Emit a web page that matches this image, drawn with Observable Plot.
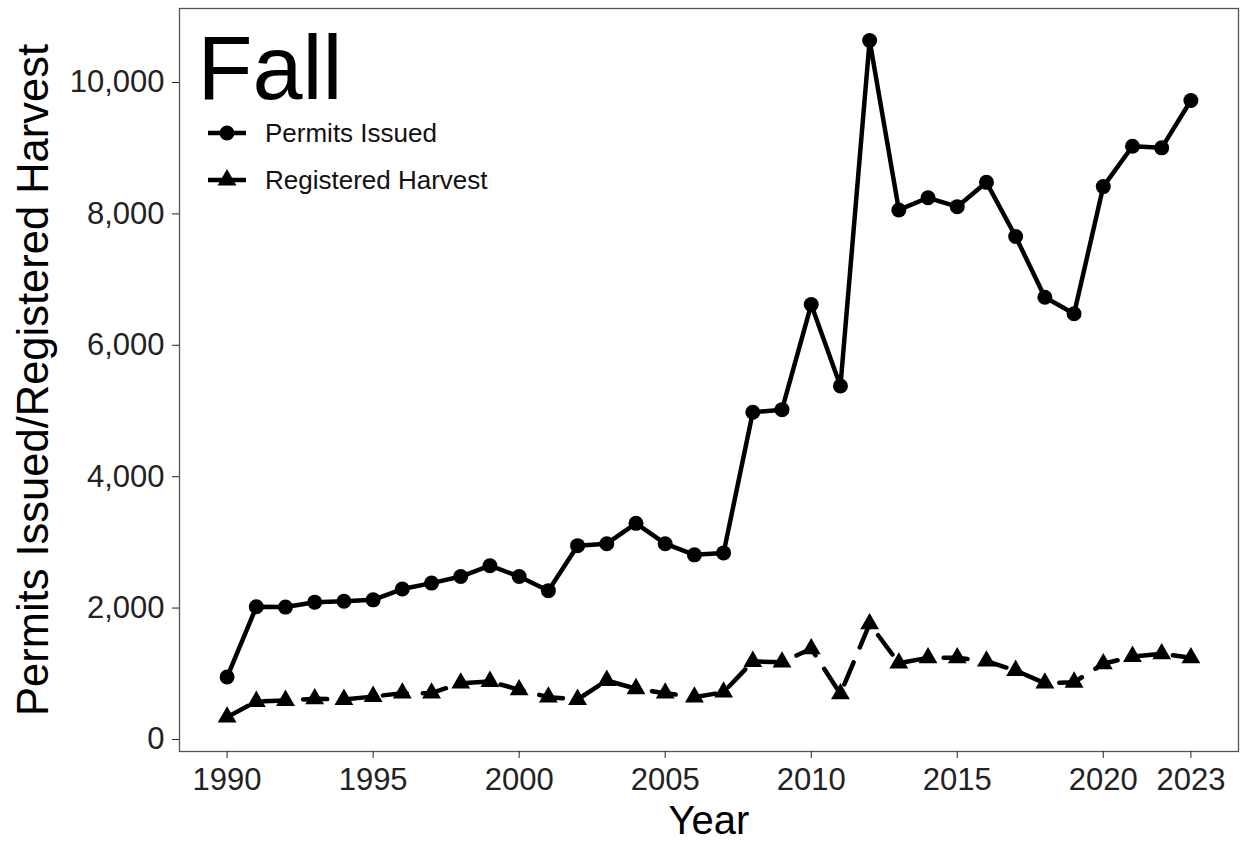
<!DOCTYPE html>
<html><head><meta charset="utf-8">
<script src="https://cdn.jsdelivr.net/npm/d3@7"></script>
<script src="https://cdn.jsdelivr.net/npm/@observablehq/plot@0.6"></script>
<style>body{margin:0;background:#fff;}</style>
</head><body><div id="chart"></div>
<script>
const years = [1990,1991,1992,1993,1994,1995,1996,1997,1998,1999,2000,2001,2002,2003,2004,2005,2006,2007,2008,2009,2010,2011,2012,2013,2014,2015,2016,2017,2018,2019,2020,2021,2022,2023];
const permits = [950,2020,2015,2090,2105,2125,2290,2380,2480,2645,2480,2265,2950,2980,3290,2980,2810,2840,4980,5020,6620,5380,10640,8060,8245,8110,8480,7655,6730,6480,8415,9030,9005,9725];
const harvest = [340,578,594,619,609,654,705,705,857,883,756,644,609,898,772,705,644,720,1187,1177,1380,695,1761,1162,1243,1243,1192,1050,857,872,1152,1263,1304,1243];
const yTicks = [0,2000,4000,6000,8000,10000];
const xTicks = [1990,1995,2000,2005,2010,2015,2020,2023];
const seriesNames = ["Permits Issued","Registered Harvest"];
const panelTitle = "Fall";
const xLabel = "Year";
const yLabel = "Permits Issued/Registered Harvest";

const pData = years.map((y,i)=>({year:y, value:permits[i]}));
const hData = years.map((y,i)=>({year:y, value:harvest[i]}));
const FONT = "Liberation Sans, Arial, sans-serif";

function legendMark(index, scales, values, dims, context) {
  const g = d3.create("svg:g").attr("font-family", FONT).attr("text-anchor","start");
  const items = [
    {name: seriesNames[0], symbol: d3.symbolCircle, size: Math.PI*7.5*7.5},
    {name: seriesNames[1], symbol: d3.symbolTriangle, size: Math.PI*7*7}
  ];
  items.forEach((it,i)=>{
    const cy = 133 + i*47;
    g.append("line").attr("x1",208).attr("x2",246).attr("y1",cy).attr("y2",cy)
      .attr("stroke","black").attr("stroke-width",4.5);
    g.append("path").attr("transform",`translate(227,${cy})`).attr("d",d3.symbol(it.symbol, it.size)()).attr("fill","black");
    g.append("text").attr("x",265).attr("y",cy+9).attr("font-size",26).attr("fill","#111").attr("text-anchor","start").text(it.name);
  });
  return g.node();
}

const chart = Plot.plot({
  width:1243, height:845,
  marginLeft:179, marginRight:5, marginTop:8, marginBottom:94,
  x:{domain:[1988.37,2024.63], label:null},
  y:{domain:[-183,11126], label:null},
  style:{fontFamily:FONT, background:"#fff", color:"#111"},
  marks:[
    Plot.frame({stroke:"#555", strokeWidth:1.3}),
    Plot.axisY(yTicks, {tickFormat:d3.format(","), fontSize:31, tickSize:7, tickPadding:8, color:"#222", label:null}),
    Plot.axisX(xTicks, {tickFormat:d=>String(d), fontSize:31, tickSize:7, tickPadding:9, color:"#222", label:null}),
    Plot.line(hData, {x:"year", y:"value", stroke:"black", strokeWidth:4.5, strokeDasharray:"24,16"}),
    Plot.dot(hData, {x:"year", y:"value", symbol:"triangle", r:7, fill:"black"}),
    Plot.line(pData, {x:"year", y:"value", stroke:"black", strokeWidth:4.5}),
    Plot.dot(pData, {x:"year", y:"value", r:7.5, fill:"black"}),
    Plot.text([panelTitle], {frameAnchor:"top-left", textAnchor:"start", lineAnchor:"top", dx:18, dy:27, fontSize:90, fill:"black"}),
    Plot.text([xLabel], {frameAnchor:"bottom", lineAnchor:"bottom", dy:82, fontSize:40, fill:"black"}),
    Plot.text([yLabel], {frameAnchor:"left", rotate:-90, lineAnchor:"bottom", textAnchor:"middle", dx:-132, fontSize:43.5, fill:"black"}),
    legendMark
  ]
});
document.getElementById("chart").appendChild(chart);
</script>
</body></html>
